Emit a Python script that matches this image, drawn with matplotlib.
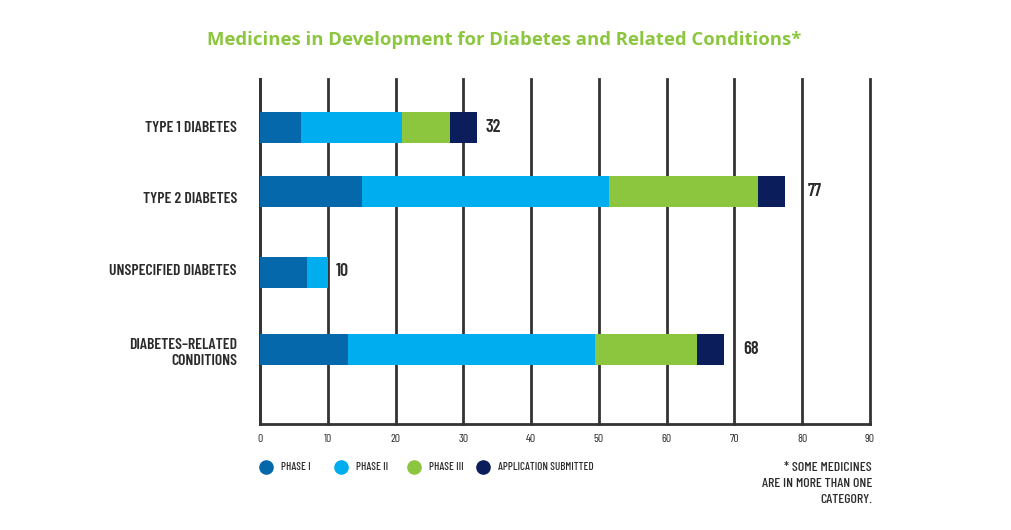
import numpy as np
import matplotlib.pyplot as plt
from matplotlib.transforms import blended_transform_factory

categories = ['TYPE 1 DIABETES', 'TYPE 2 DIABETES', 'UNSPECIFIED DIABETES',
              'DIABETES–RELATED\nCONDITIONS']
phases = ['PHASE I', 'PHASE II', 'PHASE III', 'APPLICATION SUBMITTED']
phase_1 = [6, 15, 7, 13]
phase_2 = [15, 36.5, 3, 36.5]
phase_3 = [7, 22, 0, 15]
submitted = [4, 4, 0, 4]
totals = [32, 77, 10, 68]
x_ticks = list(range(0, 91, 10))

colors = ['#0568ab', '#00adee', '#8cc63f', '#0b1d5a']
grid_col = '#333333'
txt_col = '#2b2b2b'
cond = ['Barlow Condensed', 'DejaVu Sans']

# layout (pixel rows of the original design)
row_y = [127.5, 191.5, 272, 349.5]
label_y = [128, 199, 271, 353]
label_dx = [9, 22, 8, 19]

W, H = 1012, 530
fig = plt.figure(figsize=(W / 100, H / 100), dpi=100)
ax = fig.add_axes([260 / W, 1 - 424 / H, 610 / W, 345 / H])

series = [phase_1, phase_2, phase_3, submitted]
left = np.zeros(len(categories))
for vals, col in zip(series, colors):
    ax.barh(row_y, vals, left=left, height=31, color=col, zorder=3)
    left += np.array(vals)

for y, end, tot, dx in zip(row_y, left, totals, label_dx):
    ax.annotate(str(tot), (end, y), xytext=(dx * 0.72, 0), textcoords='offset points',
                va='center', ha='left', fontsize=13, fontweight=600,
                color=txt_col, family=cond)

ax.set_xlim(0, 90)
ax.set_ylim(424, 79)
ax.set_xticks(x_ticks)
ax.set_xticklabels([str(t) for t in x_ticks], family=cond, fontsize=8.5, color=txt_col)
ax.set_yticks([])
ax.tick_params(axis='both', length=0)
ax.tick_params(axis='x', pad=7)
ax.xaxis.grid(True, color=grid_col, lw=2)
ax.set_axisbelow(True)
for s in ['top', 'right']:
    ax.spines[s].set_visible(False)
for s in ['left', 'bottom']:
    ax.spines[s].set_color(grid_col)
    ax.spines[s].set_linewidth(2)
for gl in ax.xaxis.get_gridlines():
    gl.set_clip_on(False)

# category labels, placed by hand like the design
trans = blended_transform_factory(fig.transFigure, ax.transData)
for y, name in zip(label_y, categories):
    ax.text(237 / W, y, name, transform=trans, ha='right', va='center',
            fontsize=11.3, fontweight=600, color=txt_col, family=cond,
            linespacing=1.2, multialignment='right')

fig.text(504 / W, 1 - 40 / H, 'Medicines in Development for Diabetes and Related Conditions*',
         ha='center', va='center', fontsize=13.3, fontweight='bold', color='#8cc63f',
         family=['Open Sans', 'DejaVu Sans'])

# legend
leg_x = [266, 341, 414, 483]
leg_y = 1 - 467 / H
for lx, name, col in zip(leg_x, phases, colors):
    fig.lines.append(plt.Line2D([lx / W], [leg_y], marker='o', markersize=9.5,
                                color=col, transform=fig.transFigure))
    fig.text((lx + 15) / W, leg_y, name, ha='left', va='center', fontsize=8,
             fontweight=500, color=txt_col, family=cond)

fig.text(872 / W, 1 - 484 / H, '* SOME MEDICINES\nARE IN MORE THAN ONE\nCATEGORY.',
         ha='right', va='center', fontsize=10, fontweight=500, color=txt_col,
         family=cond, linespacing=1.4)

fig.savefig('out.png', dpi=100, facecolor='white')
